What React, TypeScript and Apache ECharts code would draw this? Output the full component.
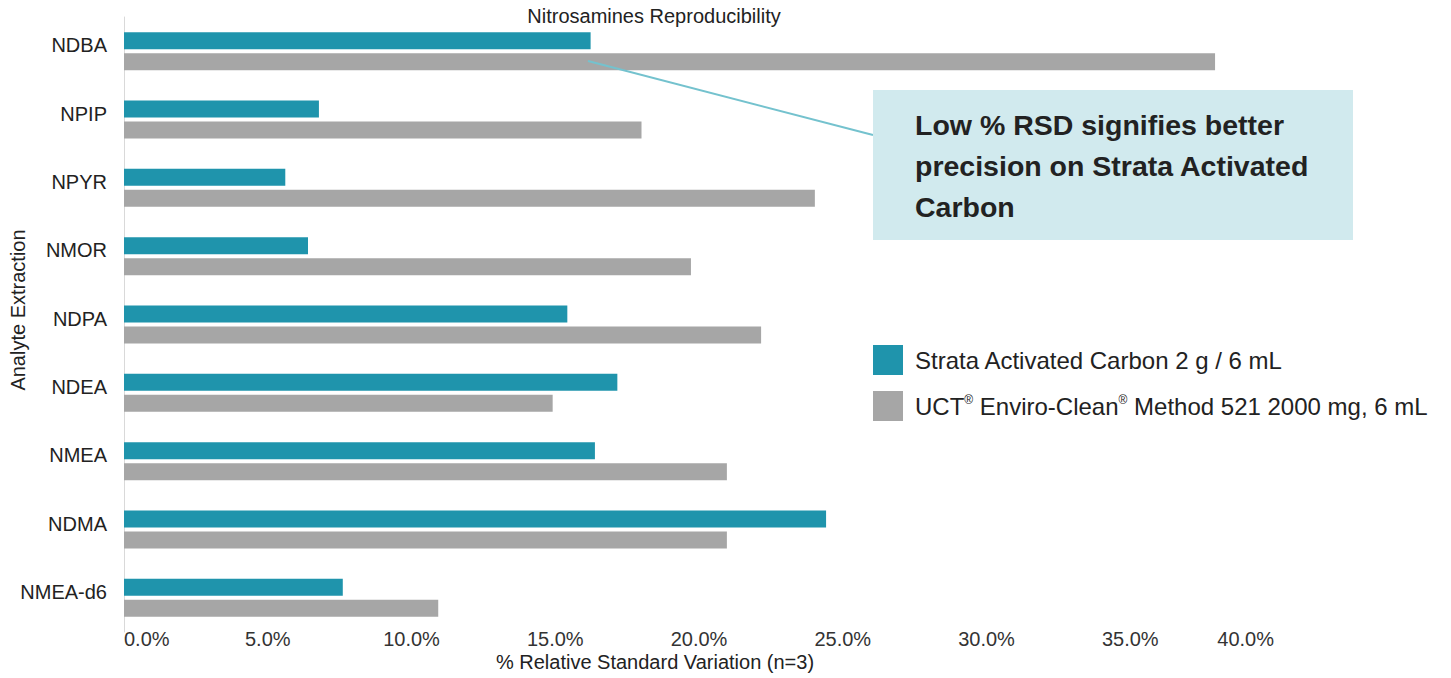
import React, { useEffect, useRef } from "react";
import * as echarts from "echarts";

const categories = ["NDBA", "NPIP", "NPYR", "NMOR", "NDPA", "NDEA", "NMEA", "NDMA", "NMEA-d6"];
const strataValues = [16.23, 6.78, 5.61, 6.4, 15.42, 17.16, 16.38, 24.42, 7.61];
const uctValues = [37.95, 18.0, 24.03, 19.72, 22.16, 14.91, 20.97, 20.97, 10.93];
const seriesNames = ["Strata Activated Carbon 2 g / 6 mL", "UCT® Enviro-Clean® Method 521 2000 mg, 6 mL"];
const titleText = "Nitrosamines Reproducibility";
const xAxisTitle = "% Relative Standard Variation (n=3)";
const yAxisTitle = "Analyte Extraction";
const calloutLines = ["Low % RSD signifies better", "precision on Strata Activated", "Carbon"];

const FONT = "'Liberation Sans', Arial, Helvetica, sans-serif";
const TEAL = "#1f94ac";
const GRAY = "#a6a6a6";

export default function App() {
  const ref = useRef<HTMLDivElement>(null);
  useEffect(() => {
    if (!ref.current) return;
    const chart = echarts.init(ref.current, null, { renderer: "svg" });
    chart.setOption({
      animation: false,
      textStyle: { fontFamily: FONT },
      title: {
        text: titleText,
        left: 654,
        top: 6,
        padding: 0,
        textAlign: "center",
        textStyle: { fontFamily: FONT, fontSize: 20, fontWeight: "normal", color: "#222" },
      },
      legend: {
        orient: "vertical",
        left: 873,
        top: 345,
        padding: 0,
        itemWidth: 30,
        itemHeight: 30,
        itemGap: 16,
        icon: "rect",
        data: seriesNames,
        formatter: (name: string) => name.replace(/®/g, "{sup|®}"),
        textStyle: {
          fontFamily: FONT,
          fontSize: 24,
          color: "#222",
          padding: [0, 0, 0, 7],
          rich: {
            sup: { fontFamily: FONT, fontSize: 12, verticalAlign: "top", color: "#222" },
          },
        },
      },
      grid: { left: 124, right: 177, top: 17, bottom: 46, containLabel: false },
      xAxis: {
        type: "value",
        min: 0,
        max: 40,
        interval: 5,
        axisLine: { show: false },
        axisTick: { show: false },
        splitLine: { show: false },
        axisLabel: {
          formatter: (v: number) => v.toFixed(1) + "%",
          fontFamily: FONT,
          fontSize: 20,
          color: "#333",
          margin: -3,
          alignMinLabel: "left",
          alignMaxLabel: "right",
        },
      },
      yAxis: {
        type: "category",
        data: categories,
        inverse: true,
        axisLine: { show: true, lineStyle: { color: "#d9d9d9", width: 1 } },
        axisTick: { show: false },
        axisLabel: {
          fontFamily: FONT,
          fontSize: 20,
          color: "#222",
          margin: 17,
          verticalAlign: "bottom",
          lineHeight: 12,
        },
      },
      series: [
        {
          name: seriesNames[0],
          type: "bar",
          data: strataValues,
          barWidth: 17,
          barGap: "24%",
          itemStyle: { color: TEAL },
        },
        {
          name: seriesNames[1],
          type: "bar",
          data: uctValues,
          barWidth: 17,
          itemStyle: { color: GRAY },
        },
      ],
      graphic: [
        {
          type: "text",
          x: 18,
          y: 310,
          rotation: Math.PI / 2,
          style: { text: yAxisTitle, font: `20px ${FONT}`, fill: "#222", align: "center", verticalAlign: "middle" },
        },
        {
          type: "text",
          x: 655,
          y: 662,
          style: { text: xAxisTitle, font: `20px ${FONT}`, fill: "#222", align: "center", verticalAlign: "middle" },
        },
        {
          type: "line",
          shape: { x1: 588, y1: 61, x2: 873, y2: 135 },
          style: { stroke: "#74c2ce", lineWidth: 2 },
          z: 10,
        },
        {
          type: "rect",
          shape: { x: 873, y: 90, width: 480, height: 150 },
          style: { fill: "#d1eaee" },
          z: 11,
        },
        {
          type: "text",
          x: 915,
          y: 104,
          z: 12,
          style: {
            text: calloutLines.join("\n"),
            font: `bold 28.5px ${FONT}`,
            fill: "#222",
            lineHeight: 41,
          },
        },
      ],
    });
    return () => chart.dispose();
  }, []);
  return <div ref={ref} style={{ position: "absolute", left: 0, top: 0, width: 1451, height: 678 }} />;
}
